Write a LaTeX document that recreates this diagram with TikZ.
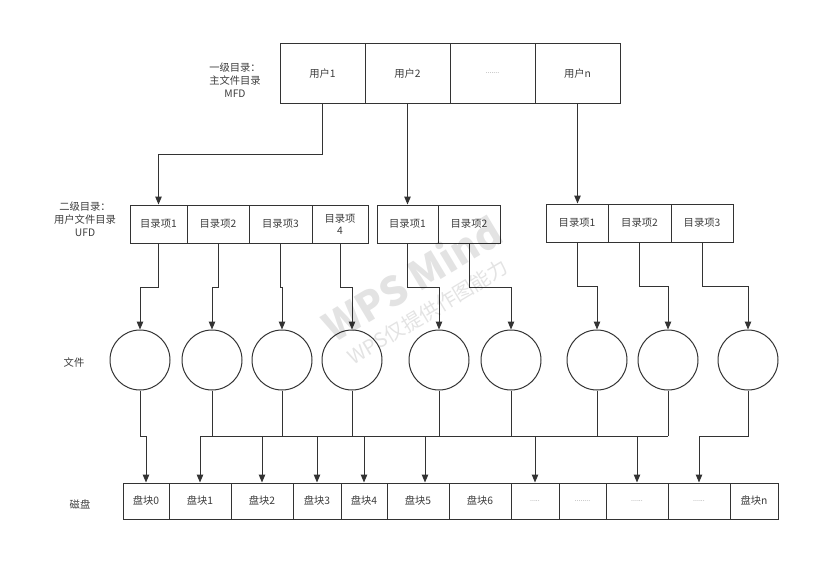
\documentclass[tikz,border=0pt]{standalone}
\usepackage{fontspec}
\setmainfont{Noto Sans CJK SC}
\usepackage{xcolor}
\usetikzlibrary{arrows.meta}

\definecolor{linegray}{HTML}{333333}
\definecolor{txtgray}{HTML}{3C3C3C}

\begin{document}
\begin{tikzpicture}[x=1pt,y=-1pt,
	line width=1pt, draw=linegray,
	cell/.style={draw=linegray, rectangle, inner sep=0pt, align=center,
		font=\fontsize{10.3}{12}\selectfont, text=txtgray},
	dots/.style={font=\fontsize{7}{8}\selectfont, text=black!45},
	file/.style={draw=linegray, circle, inner sep=0pt, minimum size=60},
	lbl/.style={align=center, font=\fontsize{10.3}{13}\selectfont, text=txtgray},
	arr/.style={-{Triangle[length=8pt,width=6.5pt]}, linegray}]
	\useasboundingbox (0,0) rectangle (832,586);
	
	% Level 1 - MFD
	\node[lbl] (mfdlbl) at (235,80) {一级目录：\\主文件目录\\MFD};
	\node[cell, minimum width=85, minimum height=59] (u1) at (322.5,73.5) {用户1};
	\node[cell, minimum width=85, minimum height=59] (u2) at (407.5,73.5) {用户2};
	\node[cell, minimum width=85, minimum height=59, dots] (ud) at (492.5,73.5) {.......};
	\node[cell, minimum width=85, minimum height=59] (un) at (577.5,73.5) {用户n};
	
	% Level 2 - UFD
	\node[lbl] (ufdlbl) at (85,219.5) {二级目录：\\用户文件目录\\UFD};
	\node[cell, minimum width=57, minimum height=38] (d11) at (158.5,224) {目录项1};
	\node[cell, minimum width=62, minimum height=38] (d12) at (218,224) {目录项2};
	\node[cell, minimum width=63, minimum height=38] (d13) at (280.5,224) {目录项3};
	\node[cell, minimum width=56, minimum height=38] (d14) at (340,224) {目录项\\4};
	
	\node[cell, minimum width=61, minimum height=38] (d21) at (407.5,224) {目录项1};
	\node[cell, minimum width=62, minimum height=38] (d22) at (469,224) {目录项2};
	
	\node[cell, minimum width=62, minimum height=38] (d31) at (577,223) {目录项1};
	\node[cell, minimum width=63, minimum height=38] (d32) at (639.5,223) {目录项2};
	\node[cell, minimum width=62, minimum height=38] (d33) at (702,223) {目录项3};
	
	% Files
	\node[lbl] (filelbl) at (74,363) {文件};
	\foreach \x [count=\i] in {140,212,282,352,439,511,597,668,748}
		\node[file] (f\i) at (\x,360) {};
	
	% Disk blocks
	\node[lbl] (disklbl) at (80,504) {磁盘};
	\node[cell, minimum width=46, minimum height=36] (k0) at (146,501) {盘块0};
	\node[cell, minimum width=62, minimum height=36] (k1) at (200,501) {盘块1};
	\node[cell, minimum width=62, minimum height=36] (k2) at (262,501) {盘块2};
	\node[cell, minimum width=48, minimum height=36] (k3) at (317,501) {盘块3};
	\node[cell, minimum width=46, minimum height=36] (k4) at (364,501) {盘块4};
	\node[cell, minimum width=62, minimum height=36] (k5) at (418,501) {盘块5};
	\node[cell, minimum width=62, minimum height=36] (k6) at (480,501) {盘块6};
	\node[cell, minimum width=48, minimum height=36, dots] (k7) at (535,501) {.....};
	\node[cell, minimum width=47, minimum height=36, dots] (k8) at (582.5,501) {........};
	\node[cell, minimum width=62, minimum height=36, dots] (k9) at (637,501) {......};
	\node[cell, minimum width=62, minimum height=36, dots] (k10) at (699,501) {......};
	\node[cell, minimum width=48, minimum height=36] (k11) at (754,501) {盘块n};
	
	% MFD -> UFD
	\draw[arr] (u1.south) -- ++(0,51) -| (d11.north);
	\draw[arr] (u2.south) -- (d21.north);
	\draw[arr] (un.south) -- (un.south |- d31.north);
	
	% UFD -> files
	\foreach \d/\f in {d11/f1,d12/f2,d13/f3,d14/f4,d21/f5,d22/f6,d31/f7,d32/f8,d33/f9}
		\draw[arr] (\d.south) -- ++(0,44) -| (\f.north);
	
	% files -> disk blocks
	\coordinate (busL) at (200,436);
	\coordinate (busR) at (668,436);
	\draw (busL) -- (busR);
	\foreach \f in {f2,f3,f4,f5,f6,f7,f8}
		\draw (\f.south) -- (\f.south |- busL);
	\foreach \k in {k1,k2,k3,k4,k7,k9}
		\draw[arr] (\k.north |- busL) -- (\k.north);
	\draw[arr] ([xshift=7pt]k5.north |- busL) -- ([xshift=7pt]k5.north);
	\draw[arr] (f1.south) -- ++(0,46) -| (k0.north);
	\draw[arr] (f9.south) -- ++(0,46) -| (k10.north);
	
	% Watermark
	\node[rotate=31, text=black, text opacity=0.11, font=\bfseries\fontsize{40}{40}\selectfont] (wm1) at (412,278) {WPS Mind};
	\node[rotate=31, text=black, text opacity=0.11, font=\fontsize{20}{20}\selectfont] (wm2) at (428,312) {WPS仅提供作图能力};
\end{tikzpicture}
\end{document}
